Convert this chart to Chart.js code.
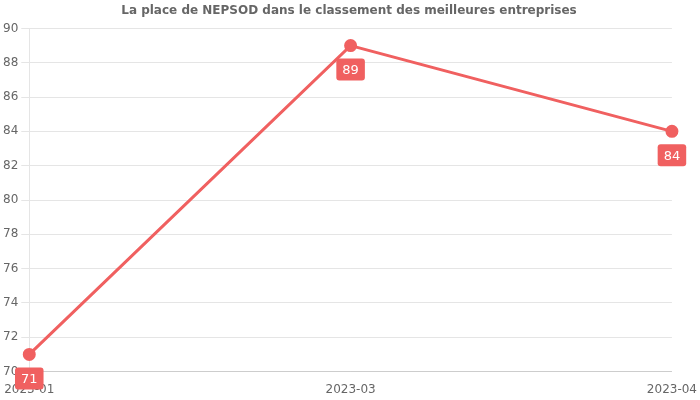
<!DOCTYPE html>
<html><head><script src="https://cdn.jsdelivr.net/npm/chart.js@4"></script>
<style>body{margin:0}#w{width:700px;height:400px}</style></head>
<body><div id="w"><canvas id="c"></canvas></div>
<script>
const categories=["2023-01","2023-03","2023-04"];
const values=[71,89,84];
const color="#f06060";
const labelPlugin={id:"lbl",afterDatasetsDraw(ch){
 const ctx=ch.ctx;const meta=ch.getDatasetMeta(0);
 ctx.save();ctx.font="13px 'DejaVu Sans'";ctx.textAlign="center";ctx.textBaseline="middle";
 meta.data.forEach((p,i)=>{const t=String(values[i]);const w=ctx.measureText(t).width+12,h=22;
  const x=p.x,y=p.y+24;ctx.fillStyle=color;ctx.beginPath();ctx.roundRect(x-w/2,y-h/2,w,h,3);ctx.fill();
  ctx.fillStyle="#fff";ctx.fillText(t,x,y+1);});
 ctx.restore();}};
Chart.defaults.font.family="'DejaVu Sans'";
new Chart(document.getElementById("c"),{type:"line",
 data:{labels:categories,datasets:[{data:values,borderColor:color,backgroundColor:color,borderWidth:3,pointRadius:5,tension:0}]},
 options:{responsive:true,maintainAspectRatio:false,animation:false,
  layout:{padding:{right:2}},
  plugins:{legend:{display:false},tooltip:{enabled:false},
   title:{display:true,text:"La place de NEPSOD dans le classement des meilleures entreprises",color:"#666",font:{size:12,weight:"bold"},padding:{top:4,bottom:10}}},
  scales:{x:{offset:false,grid:{display:false},ticks:{color:"#666",font:{size:12},maxRotation:0}},
   y:{min:70,max:90,ticks:{stepSize:2,color:"#666",font:{size:12}},grid:{color:"#e5e5e5"}}}},
 plugins:[labelPlugin]});
</script></body></html>
